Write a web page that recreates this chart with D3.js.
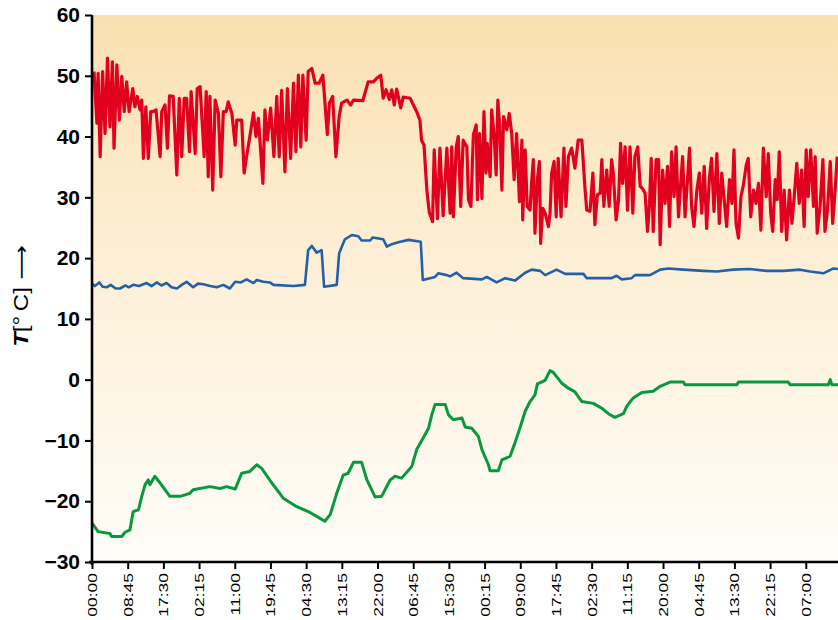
<!DOCTYPE html>
<html>
<head>
<meta charset="utf-8">
<script src="https://cdn.jsdelivr.net/npm/d3@7"></script>
<style>
  body { margin: 0; background: #fff; }
  text { font-family: "Liberation Sans", Arial, sans-serif; }
</style>
</head>
<body>
<svg id="svg" width="838" height="620"></svg>
<script>
// time axis labels, one every 8 h 45 min
var timeLabels = ["00:00", "08:45", "17:30", "02:15", "11:00", "19:45", "04:30", "13:15", "22:00", "06:45",
    "15:30", "00:15", "09:00", "17:45", "02:30", "11:15", "20:00", "04:45", "13:30", "22:15", "07:00"];
var tempTicks = [-30, -20, -10, 0, 10, 20, 30, 40, 50, 60];

// red series (hours since start, degC)
var redHours = [0.5, 1.2, 1.5, 2.0, 2.6, 3.2, 3.8, 4.4, 5.0, 5.4, 6.1, 6.7, 7.3, 7.9, 8.5, 9.1, 10.0, 10.5, 11.1, 11.8,
    12.2, 12.6, 13.2, 13.8, 14.4, 15.0, 15.7, 16.7, 17.1, 17.9, 18.5, 19.0, 19.9, 20.8, 21.4, 22.0, 22.6, 23.2, 23.9, 24.3,
    25.3, 25.8, 26.5, 27.5, 28.0, 28.5, 28.9, 29.6, 30.2, 31.0, 31.6, 32.2, 32.9, 33.4, 34.3, 35.1, 35.5, 36.7, 37.3, 37.9,
    38.7, 39.6, 40.2, 40.8, 41.9, 42.4, 43.0, 43.8, 44.6, 45.3, 45.9, 46.5, 47.3, 47.9, 48.7, 49.4, 50.0, 50.6, 51.2, 51.7,
    52.5, 53.0, 53.9, 54.7, 55.7, 56.6, 57.1, 57.7, 58.2, 59.0, 59.8, 60.6, 61.2, 62.5, 63.4, 64.1, 66.4, 67.7, 69.0, 69.8,
    70.8, 71.4, 72.1, 72.9, 73.5, 74.1, 74.7, 75.7, 76.3, 78.0, 78.8, 79.6, 80.4, 80.8, 81.4, 82.1, 82.7, 83.5, 83.9, 84.7,
    85.3, 86.1, 87.0, 87.8, 88.2, 88.6, 89.3, 89.8, 90.4, 91.0, 91.9, 92.3, 92.9, 93.5, 94.2, 94.5, 95.0, 95.6, 96.1, 96.6,
    96.9, 97.6, 98.0, 98.6, 99.1, 99.5, 100.0, 100.5, 100.9, 101.7, 102.3, 102.9, 103.5, 104.1, 104.8, 105.4, 105.6, 106.2, 106.7, 107.4,
    107.8, 108.2, 108.6, 109.2, 109.7, 110.0, 110.5, 111.1, 111.9, 112.3, 112.7, 113.3, 113.8, 114.3, 115.0, 115.7, 116.2, 116.8, 117.6, 118.4,
    119.2, 120.1, 120.9, 121.3, 122.1, 122.8, 123.3, 123.9, 124.6, 125.0, 125.5, 126.2, 126.8, 127.4, 127.8, 128.5, 129.1, 129.6, 130.1, 130.7,
    131.3, 131.9, 132.6, 133.1, 133.8, 134.4, 134.9, 135.6, 136.2, 136.7, 137.1, 137.6, 138.3, 138.9, 139.3, 139.9, 140.5, 141.1, 141.6, 142.1,
    142.7, 143.2, 143.8, 144.4, 144.8, 145.4, 146.0, 146.5, 147.0, 147.6, 148.3, 148.9, 149.5, 150.1, 150.7, 151.4, 151.9, 152.5, 153.2, 153.8,
    154.4, 155.0, 155.6, 156.3, 156.9, 157.4, 157.9, 158.5, 159.1, 159.7, 160.4, 160.9, 161.5, 162.2, 162.8, 163.4, 164.0, 164.6, 165.3, 165.8,
    166.4, 166.9, 167.5, 168.0, 168.5, 169.1, 169.7, 170.3, 171.0, 171.6, 172.1, 172.8, 173.4, 174.0, 174.6, 175.1, 175.6, 176.2, 176.9, 177.3,
    177.8, 178.5, 179.2, 179.7, 180.3, 181.0, 181.6, 182.2, 182.7];
var redTemp = [50.7, 42.2, 50.4, 36.7, 50.7, 40.5, 52.9, 41.6, 52.3, 38.1, 51.8, 42.7, 49.9, 44.1, 49.0, 44.1, 47.9, 44.9, 46.6, 44.4,
    46.0, 36.4, 44.9, 36.4, 44.1, 44.1, 44.4, 36.7, 44.1, 45.2, 38.1, 46.7, 46.6, 33.7, 46.3, 36.7, 46.3, 46.3, 37.5, 47.4,
    37.2, 47.9, 48.2, 36.7, 47.4, 33.4, 46.6, 31.2, 46.0, 43.8, 33.4, 44.1, 44.1, 45.7, 43.8, 38.6, 42.7, 42.7, 34.0, 36.7,
    40.0, 43.9, 40.0, 43.0, 32.3, 44.4, 39.4, 44.7, 36.7, 46.6, 36.7, 47.6, 34.2, 47.9, 36.4, 48.8, 37.5, 50.1, 38.3, 50.1,
    39.4, 50.7, 51.2, 48.8, 48.8, 50.1, 45.7, 40.3, 45.5, 46.6, 36.7, 43.3, 45.5, 46.0, 45.2, 46.0, 45.9, 49.0, 49.0, 49.6,
    50.1, 46.3, 47.7, 46.1, 47.7, 45.2, 47.8, 44.7, 46.5, 46.3, 45.2, 44.1, 42.7, 39.4, 38.6, 31.2, 27.5, 26.0, 37.8, 26.5,
    38.1, 27.0, 38.1, 27.4, 38.3, 26.8, 38.3, 40.0, 28.5, 39.4, 38.3, 29.6, 28.5, 40.3, 41.9, 29.6, 40.5, 29.8, 44.1, 34.0,
    38.9, 33.4, 44.4, 40.0, 33.7, 46.0, 41.1, 31.2, 43.3, 41.1, 43.8, 40.5, 32.9, 40.5, 29.3, 39.4, 26.3, 37.8, 28.5, 27.9,
    32.6, 36.2, 24.1, 32.9, 35.9, 22.4, 28.2, 27.4, 25.2, 27.4, 34.0, 35.9, 26.8, 36.4, 26.8, 38.1, 28.5, 36.7, 38.1, 34.8,
    39.4, 39.4, 31.2, 27.9, 27.7, 34.0, 25.5, 30.4, 30.7, 36.2, 28.5, 34.5, 28.5, 36.2, 34.0, 26.3, 29.6, 38.9, 32.3, 38.3,
    27.9, 38.3, 27.4, 36.7, 38.3, 31.8, 31.5, 30.7, 24.4, 29.0, 36.4, 24.4, 36.2, 36.2, 22.2, 34.5, 29.0, 35.1, 25.2, 37.5,
    30.1, 38.3, 26.8, 32.9, 36.7, 26.8, 32.9, 38.1, 28.5, 25.2, 31.2, 34.0, 27.4, 35.1, 24.9, 33.4, 36.4, 27.7, 37.2, 25.7,
    34.0, 29.6, 25.2, 32.9, 29.0, 37.8, 25.7, 23.3, 30.1, 32.0, 35.3, 36.4, 26.8, 31.2, 29.0, 32.3, 24.6, 38.1, 30.1, 37.2,
    27.4, 24.4, 32.9, 29.6, 37.5, 24.4, 31.2, 23.0, 31.2, 25.7, 29.6, 35.6, 29.0, 34.5, 25.2, 37.8, 30.1, 37.8, 28.5, 36.7,
    24.1, 28.5, 36.2, 24.4, 27.7, 35.9, 25.7, 31.2, 36.7];

// blue series
var blueHours = [0, 0.7, 1.8, 2.6, 3.6, 4.6, 5.8, 6.9, 8.2, 9.0, 10.1, 11.5, 13.4, 14.6, 15.9, 17.0, 18.3, 19.5, 20.8, 22.0,
    23.2, 24.8, 26.0, 27.3, 29.0, 30.6, 32.2, 33.8, 35.1, 36.5, 37.9, 39.6, 40.4, 42.0, 43.6, 44.5, 49.4, 52.2, 53.0, 53.9,
    55.1, 56.3, 56.9, 60.0, 60.6, 62.0, 63.7, 65.3, 66.1, 68.2, 68.8, 71.4, 72.3, 73.5, 75.1, 77.6, 80.6, 81.1, 84.1, 84.9,
    87.0, 87.8, 89.4, 91.0, 95.6, 96.8, 99.2, 101.3, 103.7, 106.2, 107.8, 109.9, 111.1, 113.9, 116.0, 120.5, 121.3, 127.4, 128.6, 129.9,
    132.3, 133.1, 136.8, 139.3, 141.3, 145.0, 149.9, 153.2, 157.2, 161.3, 165.4, 169.5, 173.6, 176.1, 179.3, 181.8, 182.9];
var blueTemp = [15.8, 15.4, 16.0, 15.3, 15.2, 15.6, 15.0, 15.0, 15.5, 15.2, 15.6, 15.4, 15.9, 15.4, 16.0, 15.5, 15.9, 15.2, 15.0, 15.6,
    16.1, 15.2, 15.8, 15.7, 15.4, 15.2, 15.6, 15.0, 16.1, 16.0, 16.5, 15.9, 16.4, 16.1, 16.0, 15.6, 15.4, 15.6, 21.3, 22.0,
    20.9, 21.3, 15.3, 15.6, 20.8, 23.1, 23.8, 23.6, 22.9, 22.9, 23.4, 23.1, 21.9, 22.3, 22.6, 23.0, 22.7, 16.4, 16.9, 17.5,
    17.2, 17.0, 17.6, 16.7, 16.5, 16.9, 16.0, 16.7, 16.3, 17.6, 18.1, 17.9, 17.2, 18.1, 17.4, 17.4, 16.7, 16.7, 17.1, 16.5,
    16.7, 17.2, 17.2, 18.1, 18.3, 18.1, 17.9, 17.8, 18.1, 18.2, 17.9, 17.9, 18.1, 17.8, 17.5, 18.3, 18.2];

// green series
var greenHours = [0, 1.5, 4.4, 4.8, 7.3, 8.1, 9.3, 10.1, 11.4, 12.2, 13.0, 13.8, 14.2, 15.4, 16.7, 19.1, 21.6, 24.0, 24.8, 28.9,
    31.4, 33.0, 35.1, 36.7, 38.7, 40.4, 41.6, 44.1, 46.9, 50.2, 53.0, 55.1, 57.1, 58.4, 60.0, 61.6, 62.8, 64.1, 66.1, 67.4,
    69.4, 71.0, 73.1, 74.3, 75.9, 78.4, 79.6, 81.2, 82.5, 83.3, 84.1, 86.6, 87.4, 88.6, 90.7, 91.5, 93.1, 94.7, 95.6, 97.2,
    97.6, 99.6, 100.5, 102.5, 103.7, 104.9, 106.2, 107.4, 108.6, 109.2, 111.1, 112.3, 113.1, 115.2, 116.8, 118.4, 120.1, 122.9, 125.0, 126.6,
    128.2, 130.3, 131.1, 132.7, 134.8, 137.6, 139.3, 141.7, 145.0, 145.4, 158.1, 158.5, 170.7, 171.2, 180.5, 181.0, 181.4, 182.9];
var greenTemp = [-23.6, -25.0, -25.3, -25.8, -25.8, -25.1, -24.7, -21.7, -21.4, -19.2, -17.3, -16.5, -17.3, -15.9, -17.0, -19.2, -19.2, -18.7, -18.1, -17.6,
    -17.9, -17.6, -18.0, -15.4, -15.1, -14.0, -14.6, -17.0, -19.5, -20.9, -21.7, -22.5, -23.3, -22.2, -18.7, -15.7, -15.4, -13.6, -13.6, -16.5,
    -19.3, -19.2, -16.5, -15.9, -16.2, -14.3, -11.5, -9.6, -8.0, -5.8, -4.1, -4.1, -5.8, -6.6, -6.3, -7.8, -8.0, -9.3, -11.5, -14.0,
    -15.0, -15.0, -13.2, -12.6, -10.4, -8.0, -5.2, -3.6, -2.5, -0.7, -0.1, 1.5, 1.2, -0.6, -1.4, -2.0, -3.6, -3.9, -4.7, -5.6,
    -6.2, -5.6, -4.4, -3.0, -2.1, -1.9, -1.1, -0.4, -0.4, -0.85, -0.85, -0.4, -0.4, -0.85, -0.85, 0.0, -0.85, -0.85];

var series = [
    { name: "red", hours: redHours, temp: redTemp, color: "#e1001e", width: 3.2 },
    { name: "blue", hours: blueHours, temp: blueTemp, color: "#2261aa", width: 2.6 },
    { name: "green", hours: greenHours, temp: greenTemp, color: "#06993e", width: 3 }
];

var svg = d3.select("#svg");
var plotL = 92, plotR = 838, plotT = 15, plotB = 562;

var x = d3.scaleLinear().domain([0, 182.9]).range([plotL, plotR]);
var y = d3.scaleLinear().domain([-30, 60]).range([plotB, plotT]);

// background gradient
var defs = svg.append("defs");
var grad = defs.append("linearGradient")
    .attr("id", "bg").attr("x1", 0).attr("y1", 0).attr("x2", 0).attr("y2", 1);
grad.append("stop").attr("offset", "0%").attr("stop-color", "#fae0b0");
grad.append("stop").attr("offset", "45%").attr("stop-color", "#fdefd6");
grad.append("stop").attr("offset", "100%").attr("stop-color", "#fffdf8");

defs.append("clipPath").attr("id", "clip")
    .append("rect").attr("x", plotL).attr("y", plotT).attr("width", plotR - plotL).attr("height", plotB - plotT);

svg.append("rect")
    .attr("x", plotL).attr("y", plotT)
    .attr("width", plotR - plotL).attr("height", plotB - plotT)
    .attr("fill", "url(#bg)");

var line = d3.line()
    .x(d => x(d[0]))
    .y(d => y(d[1]));

svg.append("g")
    .attr("clip-path", "url(#clip)")
    .selectAll("path")
    .data(series)
    .enter()
    .append("path")
    .attr("d", s => line(s.hours.map((h, i) => [h, s.temp[i]])))
    .attr("fill", "none")
    .attr("stroke", s => s.color)
    .attr("stroke-width", s => s.width)
    .attr("stroke-linejoin", "round");

// y axis
var yAxis = svg.append("g")
    .attr("transform", "translate(" + plotL + ",0)")
    .call(d3.axisLeft(y).tickValues(tempTicks).tickSize(7).tickSizeOuter(0).tickPadding(5));
yAxis.select(".domain").attr("stroke", "#000").attr("stroke-width", 2.6)
    .attr("d", "M0," + plotT + "V" + (plotB + 3));
yAxis.selectAll(".tick line").attr("stroke", "#000").attr("stroke-width", 2);
yAxis.selectAll(".tick text")
    .attr("fill", "#000")
    .style("font-size", "21px")
    .style("font-weight", "bold")
    .style("font-family", "'Liberation Sans', Arial, sans-serif");

// x axis
var xAxis = svg.append("g")
    .attr("transform", "translate(0," + plotB + ")")
    .call(d3.axisBottom(x)
        .tickValues(timeLabels.map((d, i) => i * 8.75))
        .tickFormat((d, i) => timeLabels[i])
        .tickSize(7).tickSizeOuter(0));
xAxis.select(".domain").attr("stroke", "#000").attr("stroke-width", 2.6)
    .attr("d", "M" + (plotL - 3) + ",0H" + plotR);
xAxis.selectAll(".tick line").attr("stroke", "#000").attr("stroke-width", 2);
xAxis.selectAll(".tick text")
    .attr("fill", "#000")
    .attr("x", 0).attr("y", 0).attr("dy", "0.36em")
    .attr("text-anchor", "end")
    .attr("transform", "translate(0,11) rotate(-90) scale(1.4,1)")
    .style("font-size", "12.5px")
    .style("font-family", "'Liberation Sans', Arial, sans-serif");

// y label
var ylab = svg.append("text")
    .attr("transform", "translate(28,296) rotate(-90) scale(1.2,1)")
    .attr("text-anchor", "middle")
    .style("font-size", "20px");
ylab.append("tspan").text("T").style("font-weight", "bold").style("font-style", "italic");
ylab.append("tspan").text("[°\u2009C]");
ylab.append("tspan").text(" \u27F6").style("font-family", "'DejaVu Sans'");
</script>
</body>
</html>
